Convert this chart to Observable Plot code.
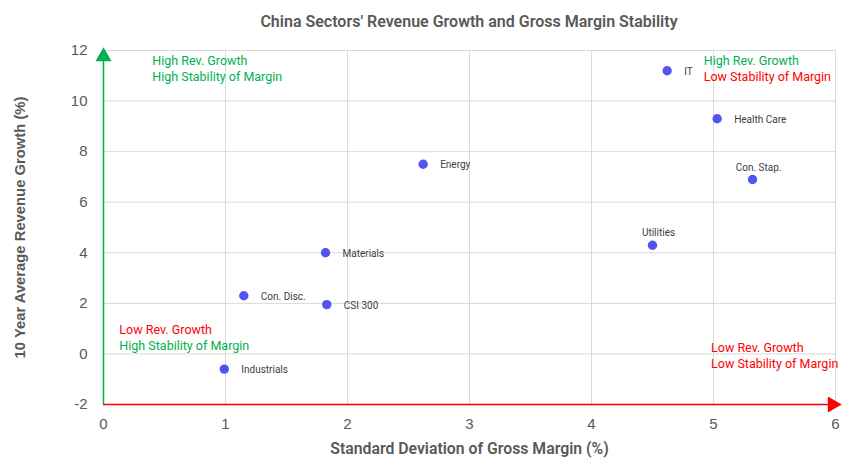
<!DOCTYPE html>
<html>
<head>
<meta charset="utf-8">
<script src="https://cdn.jsdelivr.net/npm/d3@7"></script>
<script src="https://cdn.jsdelivr.net/npm/@observablehq/plot@0.6"></script>
<style>
  html, body { margin: 0; padding: 0; background: #fff; }
  #title { height: 36px; box-sizing: border-box; padding: 12px 21px 0 103px; text-align: center;
    font-family: Roboto, sans-serif; font-weight: 600; font-size: 16px; color: #595959; line-height: 19px; }
</style>
</head>
<body>
<div id="title">China Sectors' Revenue Growth and Gross Margin Stability</div>
<div id="chart"></div>
<script>
const sectors = ["IT", "Health Care", "Con. Stap.", "Energy", "Utilities", "Materials", "Con. Disc.", "CSI 300", "Industrials"];
const marginStd = [4.62, 5.03, 5.32, 2.62, 4.50, 1.82, 1.15, 1.83, 0.99];
const revGrowth = [11.2, 9.3, 6.9, 7.5, 4.3, 4.0, 2.3, 1.95, -0.6];
const xTicks = [0, 1, 2, 3, 4, 5, 6];
const yTicks = [-2, 0, 2, 4, 6, 8, 10, 12];

const data = sectors.map((s, i) => ({name: s, x: marginStd[i], y: revGrowth[i]}));
const above = new Set(["Con. Stap.", "Utilities"]);
const rightLabels = data.filter(d => !above.has(d.name));
const topLabels = data.filter(d => above.has(d.name));

const green = "#00b050", red = "#ff0000", grey = "#595959";
const annoFont = {fontSize: 12.5, fontFamily: "Roboto, sans-serif", textAnchor: "start"};
const fmt = d => String(d);

const chart = Plot.plot({
  width: 856,
  height: 438,
  marginTop: 14,
  marginBottom: 70,
  marginLeft: 103,
  marginRight: 21,
  style: {fontFamily: "'Liberation Sans', Arial, sans-serif", background: "#fff"},
  x: {domain: [0, 6]},
  y: {domain: [-2, 12]},
  marks: [
    Plot.gridX(xTicks, {stroke: "#d9d9d9", strokeOpacity: 1}),
    Plot.gridY(yTicks, {stroke: "#d9d9d9", strokeOpacity: 1}),
    Plot.axisX(xTicks, {tickSize: 0, tickPadding: 14, fontSize: 15, fill: grey, label: null, tickFormat: fmt}),
    Plot.axisY(yTicks, {tickSize: 0, tickPadding: 16, fontSize: 15, fill: grey, label: null, tickFormat: fmt}),
    Plot.ruleY([-2], {x1: 0, x2: 6, stroke: red, strokeWidth: 1.5}),
    Plot.ruleX([0], {y1: -2, y2: 11.7, stroke: green, strokeWidth: 1.5}),
    Plot.dot([{x: 0, y: 12}], {x: "x", y: "y", symbol: "triangle", fill: green, r: 6, dy: 6}),
    Plot.dot([{x: 6, y: -2}], {x: "x", y: "y", symbol: "triangle", fill: red, r: 6, rotate: 90, dx: -3}),
    Plot.dot(data, {x: "x", y: "y", r: 4.7, fill: "#5254ef"}),
    Plot.text(rightLabels, {x: "x", y: "y", text: "name", dx: 17, dy: 1, textAnchor: "start", fontSize: 10, fill: "#404040", fontFamily: "Roboto, sans-serif"}),
    Plot.text(topLabels, {x: "x", y: "y", text: "name", dx: 6, dy: -12, textAnchor: "middle", fontSize: 10, fill: "#404040", fontFamily: "Roboto, sans-serif"}),
    Plot.text(["High Rev. Growth"], {x: 0.4, y: 11.58, fill: green, ...annoFont}),
    Plot.text(["High Stability of Margin"], {x: 0.4, y: 10.95, fill: green, ...annoFont}),
    Plot.text(["High Rev. Growth"], {x: 4.92, y: 11.58, fill: green, ...annoFont}),
    Plot.text(["Low Stability of Margin"], {x: 4.92, y: 10.95, fill: red, ...annoFont}),
    Plot.text(["Low Rev. Growth"], {x: 0.13, y: 0.95, fill: red, ...annoFont}),
    Plot.text(["High Stability of Margin"], {x: 0.13, y: 0.32, fill: green, ...annoFont}),
    Plot.text(["Low Rev. Growth"], {x: 4.98, y: 0.24, fill: red, ...annoFont}),
    Plot.text(["Low Stability of Margin"], {x: 4.98, y: -0.40, fill: red, ...annoFont}),
    Plot.text(["10 Year Average Revenue Growth (%)"], {frameAnchor: "left", dx: -83, rotate: -90, textAnchor: "middle", fontSize: 14.8, fontWeight: "bold", fill: grey}),
    Plot.text(["Standard Deviation of Gross Margin (%)"], {frameAnchor: "bottom", dy: 49, fontSize: 15.8, fill: grey, fontWeight: 600, fontFamily: "Roboto, sans-serif"})
  ]
});
document.getElementById("chart").appendChild(chart);
</script>
</body>
</html>
